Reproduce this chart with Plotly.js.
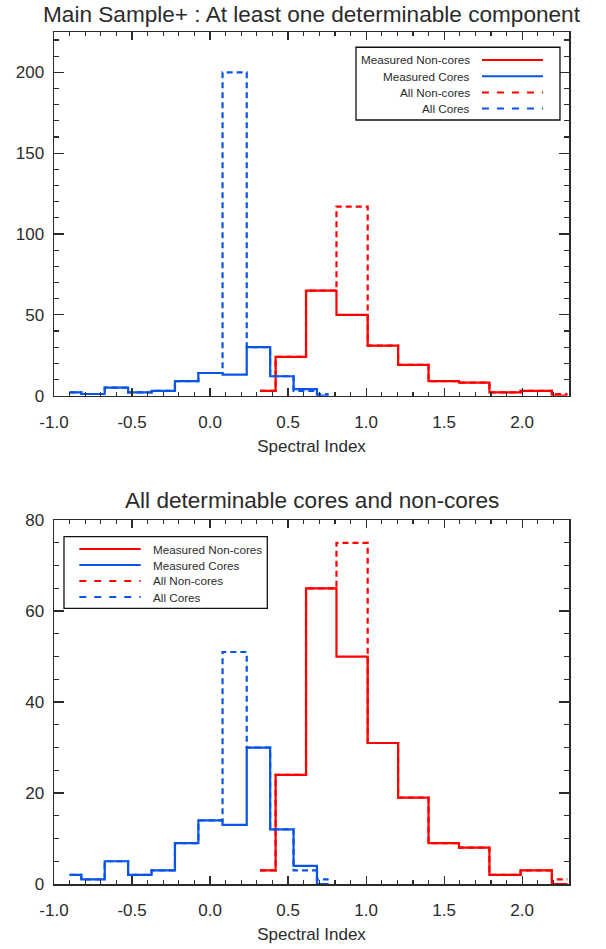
<!DOCTYPE html>
<html><head><meta charset="utf-8">
<script src="https://cdn.plot.ly/plotly-3.0.1.min.js"></script>
<style>html,body{margin:0;padding:0;background:#fff}</style>
</head><body><div id="chart" style="width:606px;height:949px"></div>
<script>
// ---- data (bin centres and counts) ----
const coreCenters      = [-0.90, -0.75, -0.60, -0.45, -0.30, -0.15, 0.00, 0.16, 0.31, 0.46, 0.61, 0.76];
const coreMeasured     = [2, 1, 5, 2, 3, 9, 14, 13, 30, 12, 4, 0];
const coreAllTop       = [2, 1, 5, 2, 3, 9, 14, 200, 30, 12, 3, 1];
const coreAllBottom    = [2, 1, 5, 2, 3, 9, 14, 51, 30, 12, 3, 1];

const noncoreCenters   = [0.32, 0.52, 0.71, 0.91, 1.11, 1.30, 1.50, 1.69, 1.89, 2.09, 2.29];
const noncoreMeasured  = [3, 24, 65, 50, 31, 19, 9, 8, 2, 3, 0];
const noncoreAllTop    = [3, 24, 65, 117, 31, 19, 9, 8, 2, 3, 1];
const noncoreAllBottom = [3, 24, 65, 75, 31, 19, 9, 8, 2, 3, 1];

const xTickVals = [-1.0, -0.5, 0.0, 0.5, 1.0, 1.5, 2.0];
const xTickText = ['-1.0', '-0.5', '0.0', '0.5', '1.0', '1.5', '2.0'];
const panelTitles = ['Main Sample+ : At least one determinable component', 'All determinable cores and non-cores'];
const xTitle = 'Spectral Index';
const seriesNames = ['Measured Non-cores', 'Measured Cores', 'All Non-cores', 'All Cores'];

// ---- styles ----
const RED = '#ff0000', BLUE = '#0a55e8', INK = '#2b2b2b';
const FONT = 'Liberation Sans, Arial, Helvetica, sans-serif';
const seriesColors = [RED, BLUE, RED, BLUE];
const seriesDash = ['solid', 'solid', 'dash', 'dash'];

function tr(x, y, color, dash, xa, ya, name) {
  return {x: x, y: y, type: 'scatter', mode: 'lines', name: name, showlegend: false,
    line: {shape: 'hvh', color: color, width: 2.2, dash: dash === 'dash' ? '6px,4px' : 'solid'},
    xaxis: xa, yaxis: ya, hoverinfo: 'x+y'};
}

const data = [
  tr(noncoreCenters, noncoreAllTop, RED, 'dash', 'x', 'y', seriesNames[2]),
  tr(noncoreCenters, noncoreMeasured, RED, 'solid', 'x', 'y', seriesNames[0]),
  tr(coreCenters, coreAllTop, BLUE, 'dash', 'x', 'y', seriesNames[3]),
  tr(coreCenters, coreMeasured, BLUE, 'solid', 'x', 'y', seriesNames[1]),
  tr(noncoreCenters, noncoreAllBottom, RED, 'dash', 'x2', 'y2', seriesNames[2]),
  tr(noncoreCenters, noncoreMeasured, RED, 'solid', 'x2', 'y2', seriesNames[0]),
  tr(coreCenters, coreAllBottom, BLUE, 'dash', 'x2', 'y2', seriesNames[3]),
  tr(coreCenters, coreMeasured, BLUE, 'solid', 'x2', 'y2', seriesNames[1])
];

function xAxis(anchor) {
  return {
    anchor: anchor, range: [-1, 2.3], showgrid: false, zeroline: false,
    showline: true, linecolor: INK, linewidth: 1.5, mirror: 'allticks',
    ticks: 'inside', ticklen: 8, tickwidth: 1.2, tickcolor: INK,
    tickmode: 'array', tickvals: xTickVals, ticktext: xTickText,
    minor: {tick0: 0, dtick: 0.1, ticks: 'inside', ticklen: 4, tickwidth: 1.2, tickcolor: INK, showgrid: false},
    tickfont: {family: FONT, size: 17, color: INK},
    ticklabelstandoff: 10,
    title: {text: xTitle, font: {family: FONT, size: 17, color: INK}, standoff: 9}
  };
}
function yAxis(anchor, domain, range, dtick, minorDtick) {
  return {
    anchor: anchor, domain: domain, range: range, showgrid: false, zeroline: false,
    showline: true, linecolor: INK, linewidth: 1.5, mirror: 'allticks',
    ticks: 'inside', ticklen: 10, tickwidth: 1.2, tickcolor: INK, dtick: dtick, tick0: 0,
    minor: {tick0: 0, dtick: minorDtick, ticks: 'inside', ticklen: 5, tickwidth: 1.2, tickcolor: INK, showgrid: false},
    tickfont: {family: FONT, size: 17, color: INK},
    ticklabelstandoff: 5
  };
}

// ---- custom legends (keys drawn as shapes, labels as text) ----
const shapes = [], annotations = [];
function legend(xref, yref, box, rows, lineX, textX, textAnchor) {
  shapes.push({type: 'rect', xref: xref, yref: yref, x0: box[0], x1: box[1], y0: box[2], y1: box[3],
    line: {color: '#111', width: 1.3}, fillcolor: '#fff', layer: 'above'});
  seriesNames.forEach(function (nm, i) {
    shapes.push({type: 'line', xref: xref, yref: yref, x0: lineX[0], x1: lineX[1], y0: rows[i], y1: rows[i],
      line: {color: seriesColors[i], width: 2, dash: seriesDash[i] === 'dash' ? '7px,8px' : 'solid'}, layer: 'above'});
    annotations.push({xref: xref, yref: yref, x: textX, y: rows[i], text: nm, showarrow: false,
      xanchor: textAnchor, yanchor: 'middle', font: {family: FONT, size: 11.7, color: INK}});
  });
}
legend('x domain', 'y domain', [0.5864, 0.9825, 0.758, 0.958], [0.923, 0.8784, 0.8339, 0.7894], [0.831, 0.9495], 0.811, 'right');
legend('x2 domain', 'y2 domain', [0.0194, 0.4142, 0.7576, 0.9544], [0.9206, 0.8766, 0.8327, 0.7887], [0.0491, 0.1683], 0.1883, 'left');

annotations.push({xref: 'x domain', yref: 'y domain', x: 0.5, y: 1.0495, text: panelTitles[0], showarrow: false,
  xanchor: 'center', yanchor: 'middle', font: {family: FONT, size: 22.6, color: INK}});
annotations.push({xref: 'x2 domain', yref: 'y2 domain', x: 0.5, y: 1.0552, text: panelTitles[1], showarrow: false,
  xanchor: 'center', yanchor: 'middle', font: {family: FONT, size: 22.6, color: INK}});

const layout = {
  width: 606, height: 949,
  margin: {l: 54, r: 37, t: 32, b: 65},
  paper_bgcolor: '#fff', plot_bgcolor: '#fff',
  showlegend: false,
  xaxis: xAxis('y'),
  yaxis: yAxis('x', [0.5732, 1], [0, 225], 50, 10),
  xaxis2: xAxis('y2'),
  yaxis2: yAxis('x2', [0, 0.4271], [0, 80], 20, 5),
  shapes: shapes,
  annotations: annotations
};

Plotly.newPlot('chart', data, layout, {displayModeBar: false, staticPlot: true});
</script>
</body></html>
